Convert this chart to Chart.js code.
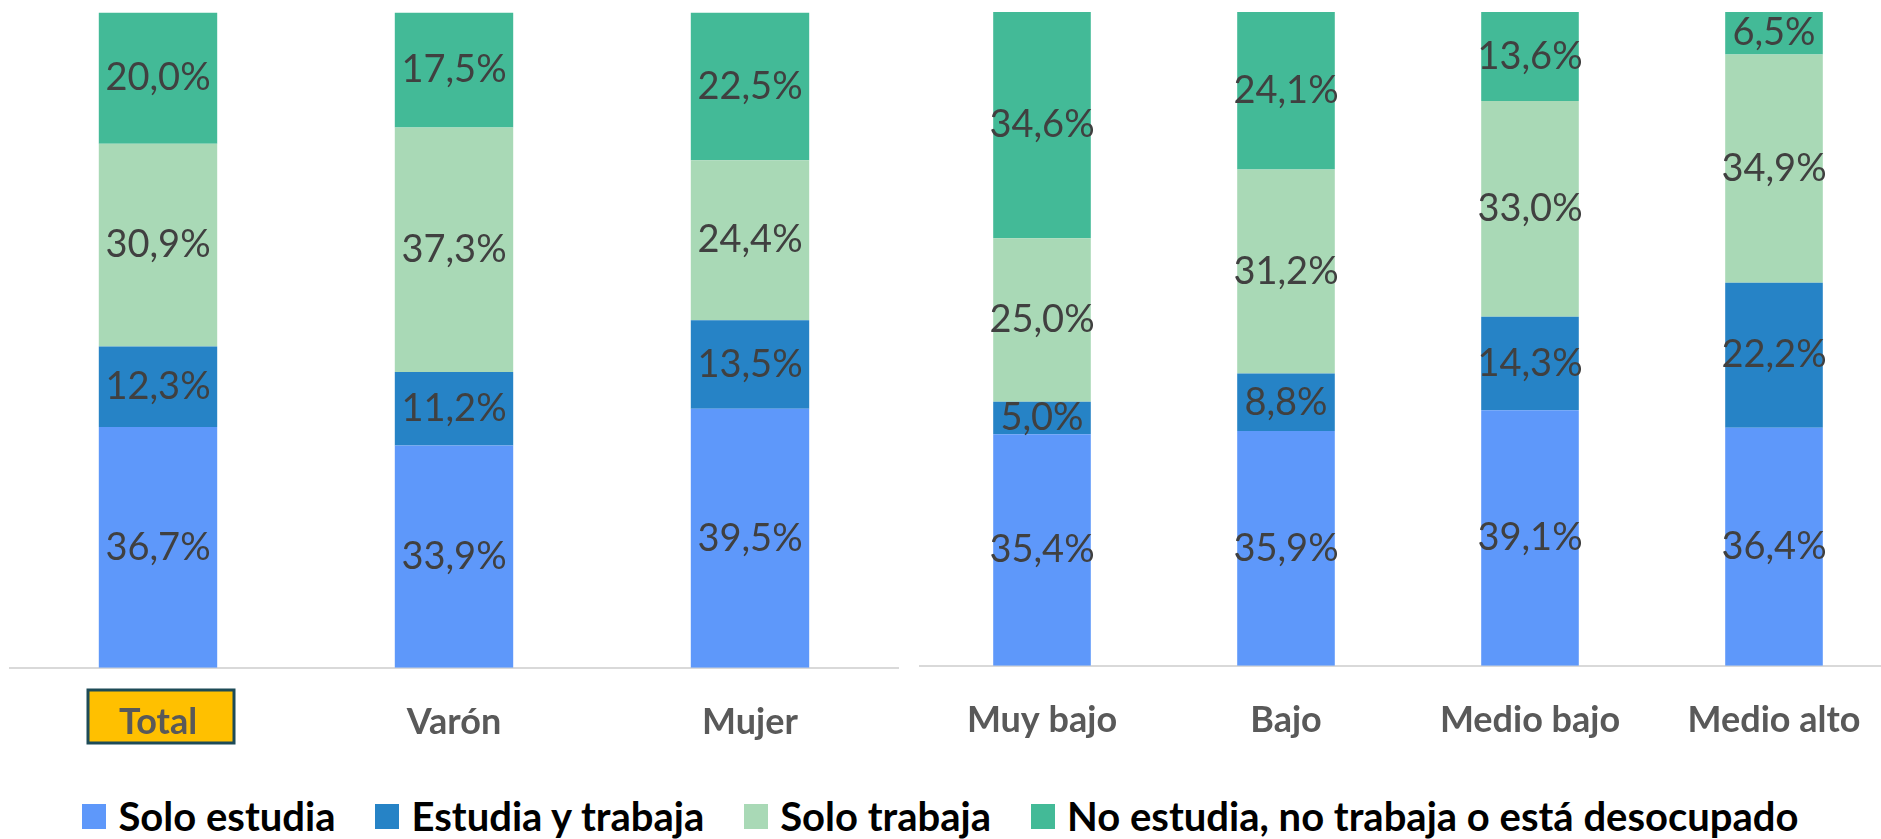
<!DOCTYPE html>
<html>
<head>
<meta charset="utf-8">
<script src="https://cdn.jsdelivr.net/npm/chart.js@4.4.1/dist/chart.umd.min.js"></script>
<style>
  html, body { margin: 0; padding: 0; background: #fff; overflow: hidden; }
  body { width: 1881px; height: 839px; position: relative; }
  #left { position: absolute; left: 0; top: 0; }
  #right { position: absolute; left: 910px; top: 0; }
  #legend {
    position: absolute; left: 0; width: 1881px; top: 792px;
    display: flex; justify-content: center; gap: 40px;
    font: bold 40px Lato, sans-serif; color: #000;
  }
  #legend span.item { display: flex; align-items: center; white-space: nowrap; }
  #legend span.box { display: inline-block; width: 24px; height: 25px; margin-right: 12px; }
</style>
</head>
<body>
<canvas id="left" width="908" height="787"></canvas>
<canvas id="right" width="986" height="787"></canvas>
<div id="legend"></div>
<script>
const groupLabels = ['Total', 'Varón', 'Mujer'];
const nseLabels = ['Muy bajo', 'Bajo', 'Medio bajo', 'Medio alto'];

const seriesNames = ['Solo estudia', 'Estudia y trabaja', 'Solo trabaja', 'No estudia, no trabaja o está desocupado'];
const seriesColors = ['#5E98FA', '#2683C6', '#A9D9B6', '#43BA97'];

// left panel: Total, Varón, Mujer
const soloEstudiaGroup = [36.7, 33.9, 39.5];
const estudiaTrabajaGroup = [12.3, 11.2, 13.5];
const soloTrabajaGroup = [30.9, 37.3, 24.4];
const noEstudiaGroup = [20.0, 17.5, 22.5];

// right panel: nivel socioeconómico
const soloEstudiaNse = [35.4, 35.9, 39.1, 36.4];
const estudiaTrabajaNse = [5.0, 8.8, 14.3, 22.2];
const soloTrabajaNse = [25.0, 31.2, 33.0, 34.9];
const noEstudiaNse = [34.6, 24.1, 13.6, 6.5];

const fmt = v => v.toFixed(1).replace('.', ',') + '%';

const valueLabels = {
  id: 'valueLabels',
  afterDatasetsDraw(chart) {
    const ctx = chart.ctx;
    ctx.save();
    ctx.font = '38px Lato, sans-serif';
    ctx.fillStyle = '#404040';
    ctx.textAlign = 'center';
    ctx.textBaseline = 'middle';
    chart.data.datasets.forEach((ds, i) => {
      chart.getDatasetMeta(i).data.forEach((bar, j) => {
        const p = bar.getProps(['x', 'y', 'base'], true);
        ctx.fillText(fmt(ds.data[j]), p.x, (p.y + p.base) / 2);
      });
    });
    ctx.restore();
  }
};

const totalBox = {
  id: 'totalBox',
  beforeDraw(chart) {
    if (chart.canvas.id !== 'left') return;
    const ctx = chart.ctx;
    const x = chart.scales.x.getPixelForValue(0);
    ctx.save();
    ctx.fillStyle = '#FFC000';
    ctx.strokeStyle = '#1D4B57';
    ctx.lineWidth = 3;
    ctx.fillRect(x - 70, 690, 146, 53);
    ctx.strokeRect(x - 70, 690, 146, 53);
    ctx.restore();
  }
};

function makeDatasets(arrs) {
  return arrs.map((data, i) => ({
    label: seriesNames[i],
    data,
    backgroundColor: seriesColors[i],
    borderWidth: 0,
    barPercentage: 0.4,
    categoryPercentage: 1
  }));
}

function makeChart(id, labels, arrs, pad) {
  new Chart(document.getElementById(id), {
    type: 'bar',
    data: { labels, datasets: makeDatasets(arrs) },
    options: {
      responsive: false,
      animation: false,
      layout: { padding: pad },
      plugins: { legend: { display: false }, tooltip: { enabled: false } },
      scales: {
        x: {
          stacked: true,
          grid: { display: false },
          border: { display: true, color: '#D9D9D9', width: 2 },
          ticks: {
            padding: 25,
            color: '#595959',
            font: { family: 'Lato, sans-serif', size: 36, weight: 'bold' }
          }
        },
        y: { stacked: true, display: false, min: 0, max: 100 }
      }
    },
    plugins: [totalBox, valueLabels]
  });
}

makeChart('left', groupLabels,
  [soloEstudiaGroup, estudiaTrabajaGroup, soloTrabajaGroup, noEstudiaGroup],
  { left: 10, right: 10, top: 12, bottom: 18 });

makeChart('right', nseLabels,
  [soloEstudiaNse, estudiaTrabajaNse, soloTrabajaNse, noEstudiaNse],
  { left: 10, right: 0, top: 12, bottom: 20 });

const legend = document.getElementById('legend');
seriesNames.forEach((name, i) => {
  const item = document.createElement('span');
  item.className = 'item';
  item.innerHTML = '<span class="box" style="background:' + seriesColors[i] + '"></span>' + name;
  legend.appendChild(item);
});
</script>
</body>
</html>
